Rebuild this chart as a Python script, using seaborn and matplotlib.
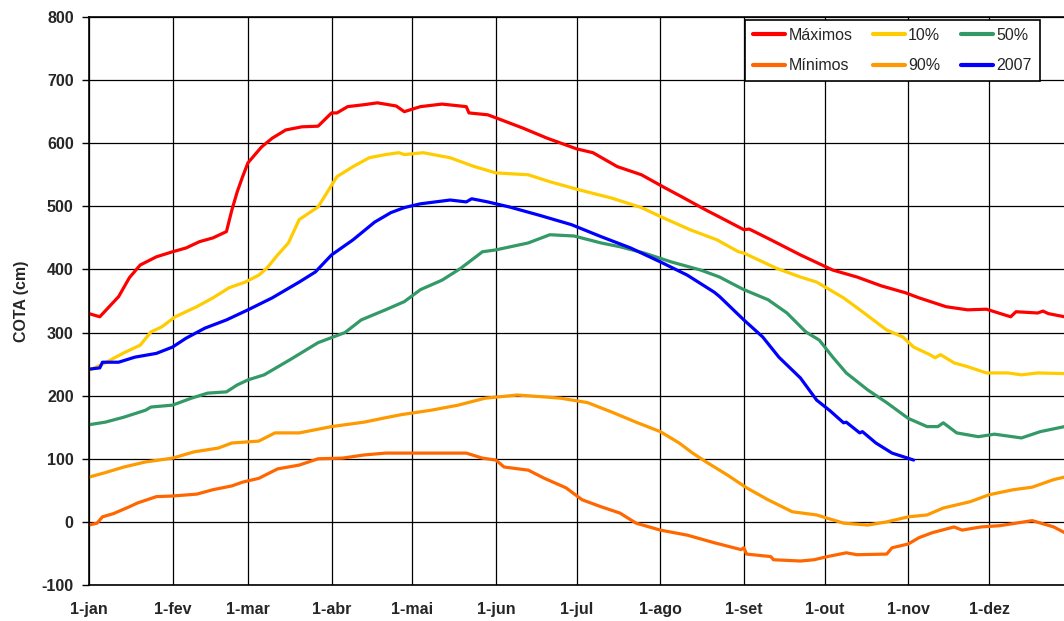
import numpy as np
import pandas as pd
import matplotlib.pyplot as plt
import seaborn as sns

# dias contados a partir de 1-jan (dia 0)
meses = ['1-jan', '1-fev', '1-mar', '1-abr', '1-mai', '1-jun',
         '1-jul', '1-ago', '1-set', '1-out', '1-nov', '1-dez']
dias_mes = [0, 31, 59, 90, 120, 151, 181, 212, 243, 273, 304, 334]

maximos_dia = [0, 4, 11, 15, 19, 25, 31, 36, 41, 46, 51, 53, 55, 57, 59, 64, 68, 73, 79, 85,
               90, 92, 96, 102, 107, 114, 117, 123, 131, 140, 141, 148, 153, 161, 170, 181,
               187, 196, 205, 213, 220, 229, 234, 243, 245, 253, 264, 268, 276, 285, 294,
               303, 308, 318, 326, 333, 342, 344, 352, 354, 356, 362]
maximos = [330, 325, 357, 387, 407, 420, 428, 434, 444, 450, 460, 494, 523, 547, 569, 594,
           608, 621, 626, 627, 648, 648, 658, 661, 664, 659, 650, 658, 662, 658, 648, 645,
           637, 624, 608, 591, 585, 563, 550, 531, 515, 494, 483, 463, 464, 447, 423, 415,
           399, 388, 374, 363, 355, 341, 336, 337, 325, 333, 331, 334, 330, 325]

minimos_dia = [0, 3, 5, 9, 15, 18, 25, 31, 40, 46, 53, 57, 63, 70, 78, 85, 94, 102, 110, 122,
               140, 146, 151, 154, 163, 169, 177, 183, 190, 197, 203, 212, 222, 232, 242,
               243, 244, 253, 254, 264, 269, 274, 281, 285, 296, 298, 304, 308, 313, 321,
               324, 331, 338, 350, 358, 362]
minimos = [-5, -2, 8, 13, 24, 30, 40, 41, 44, 51, 57, 63, 69, 84, 90, 100, 101, 106, 109, 109,
           109, 101, 98, 87, 82, 69, 54, 35, 24, 14, -2, -13, -21, -33, -44, -41, -51, -55,
           -60, -62, -60, -55, -49, -52, -51, -41, -35, -25, -17, -8, -13, -8, -6, 2, -8, -17]

p10_dia = [0, 6, 13, 19, 23, 27, 32, 40, 46, 52, 58, 63, 66, 70, 74, 78, 85, 92, 98, 104,
           110, 115, 117, 124, 134, 143, 151, 163, 171, 182, 194, 205, 213, 223, 233, 241,
           243, 255, 264, 270, 280, 287, 296, 302, 306, 312, 314, 316, 321, 326, 333, 341,
           346, 352, 362]
p10 = [240, 252, 268, 280, 301, 309, 325, 341, 355, 371, 380, 391, 402, 423, 442, 479, 499,
       547, 563, 577, 582, 585, 582, 585, 577, 563, 553, 550, 539, 526, 513, 498, 482, 463,
       447, 428, 426, 402, 388, 380, 355, 333, 304, 293, 277, 265, 260, 265, 252, 246, 236,
       236, 233, 236, 235]

p90_dia = [0, 6, 13, 21, 31, 39, 48, 53, 63, 69, 78, 84, 90, 102, 110, 116, 127, 137, 147,
           159, 169, 175, 185, 194, 203, 212, 219, 224, 229, 237, 244, 252, 261, 270, 280,
           289, 296, 304, 311, 317, 327, 334, 343, 350, 358, 362]
p90 = [71, 78, 87, 95, 101, 111, 117, 125, 128, 141, 141, 146, 151, 158, 165, 170, 177, 185,
       196, 201, 198, 196, 189, 174, 158, 143, 125, 109, 95, 74, 54, 35, 16, 11, -2, -5, 0, 8,
       11, 22, 32, 43, 51, 55, 67, 71]

p50_dia = [0, 6, 13, 21, 23, 31, 38, 44, 51, 55, 59, 65, 75, 85, 95, 101, 110, 117, 123, 131,
           138, 146, 151, 163, 171, 180, 190, 197, 206, 216, 227, 234, 238, 243, 252, 259,
           266, 271, 276, 281, 289, 296, 304, 311, 315, 317, 322, 330, 336, 346, 353, 362]
p50 = [154, 158, 166, 177, 182, 185, 196, 204, 206, 217, 225, 233, 258, 284, 300, 320, 336,
       349, 368, 383, 402, 428, 431, 442, 455, 453, 442, 436, 426, 412, 399, 388, 379, 368,
       352, 331, 301, 288, 261, 236, 209, 189, 164, 151, 151, 157, 141, 135, 139, 133, 143, 151]

ano2007_dia = [0, 4, 5, 11, 17, 25, 31, 36, 43, 51, 59, 68, 78, 84, 90, 98, 106, 112, 117, 123,
               134, 140, 142, 148, 156, 167, 179, 190, 201, 212, 222, 232, 234, 243, 250, 256,
               264, 270, 275, 280, 281, 286, 287, 292, 298, 306]
ano2007 = [242, 244, 253, 253, 261, 267, 277, 291, 307, 320, 336, 355, 380, 396, 423, 447, 475,
           490, 498, 504, 510, 507, 512, 507, 499, 486, 471, 452, 434, 412, 391, 364, 357, 320,
           293, 261, 228, 193, 176, 157, 158, 141, 143, 125, 109, 98]

series = [('Máximos', maximos_dia, maximos),
          ('Mínimos', minimos_dia, minimos),
          ('10%', p10_dia, p10),
          ('90%', p90_dia, p90),
          ('50%', p50_dia, p50),
          ('2007', ano2007_dia, ano2007)]
cores = {'Máximos': '#FF0000', 'Mínimos': '#FF6600', '10%': '#FFCC00',
         '90%': '#FF9900', '50%': '#339966', '2007': '#0000FF'}

df = pd.concat([pd.DataFrame({'dia': d, 'cota': v, 'serie': nome}) for nome, d, v in series],
               ignore_index=True)

sns.set_theme(style='white')
plt.rcParams['font.family'] = ['Liberation Sans', 'DejaVu Sans']

fig = plt.figure(figsize=(10.64, 6.21), dpi=100)
ax = fig.add_axes([89 / 1064, 36 / 621, 975 / 1064, 568 / 621])

ordem = [s[0] for s in series]
sns.lineplot(data=df, x='dia', y='cota', hue='serie', hue_order=ordem, palette=cores,
             linewidth=2.3, estimator=None, ax=ax)

ax.set_xlim(0, 361.8)
ax.set_ylim(-100, 800)
ax.set_xticks(dias_mes)
ax.set_xticklabels(meses, fontweight='bold', fontsize=11.5)
ax.set_yticks(np.arange(-100, 801, 100))
ax.set_yticklabels([str(v) for v in range(-100, 801, 100)], fontweight='bold', fontsize=11.5)
ax.tick_params(axis='y', length=5, width=1, color='black', pad=6, direction='out', left=True)
ax.tick_params(axis='x', length=0, pad=12)
ax.set_xlabel('')
ax.set_ylabel('COTA (cm)', fontweight='bold', fontsize=11.5, labelpad=9)
ax.grid(True, color='black', linewidth=0.9)
for lado in ['left', 'bottom', 'top']:
    ax.spines[lado].set_color('black')
    ax.spines[lado].set_linewidth(1.2)
ax.spines['right'].set_visible(False)

h, l = ax.get_legend_handles_labels()
ax.legend_.remove()
leg = ax.legend(h, l, ncol=3, loc='upper left', bbox_to_anchor=(0.673, 0.9947),
                borderaxespad=0, fontsize=11.5, handlelength=2.0, handletextpad=0.2,
                labelspacing=0.95, columnspacing=1.3, borderpad=0.5, fancybox=False,
                framealpha=1, edgecolor='black')
leg.get_frame().set_linewidth(1.2)
for ln in leg.get_lines():
    ln.set_linewidth(3)

fig.savefig('out.png', dpi=100)
